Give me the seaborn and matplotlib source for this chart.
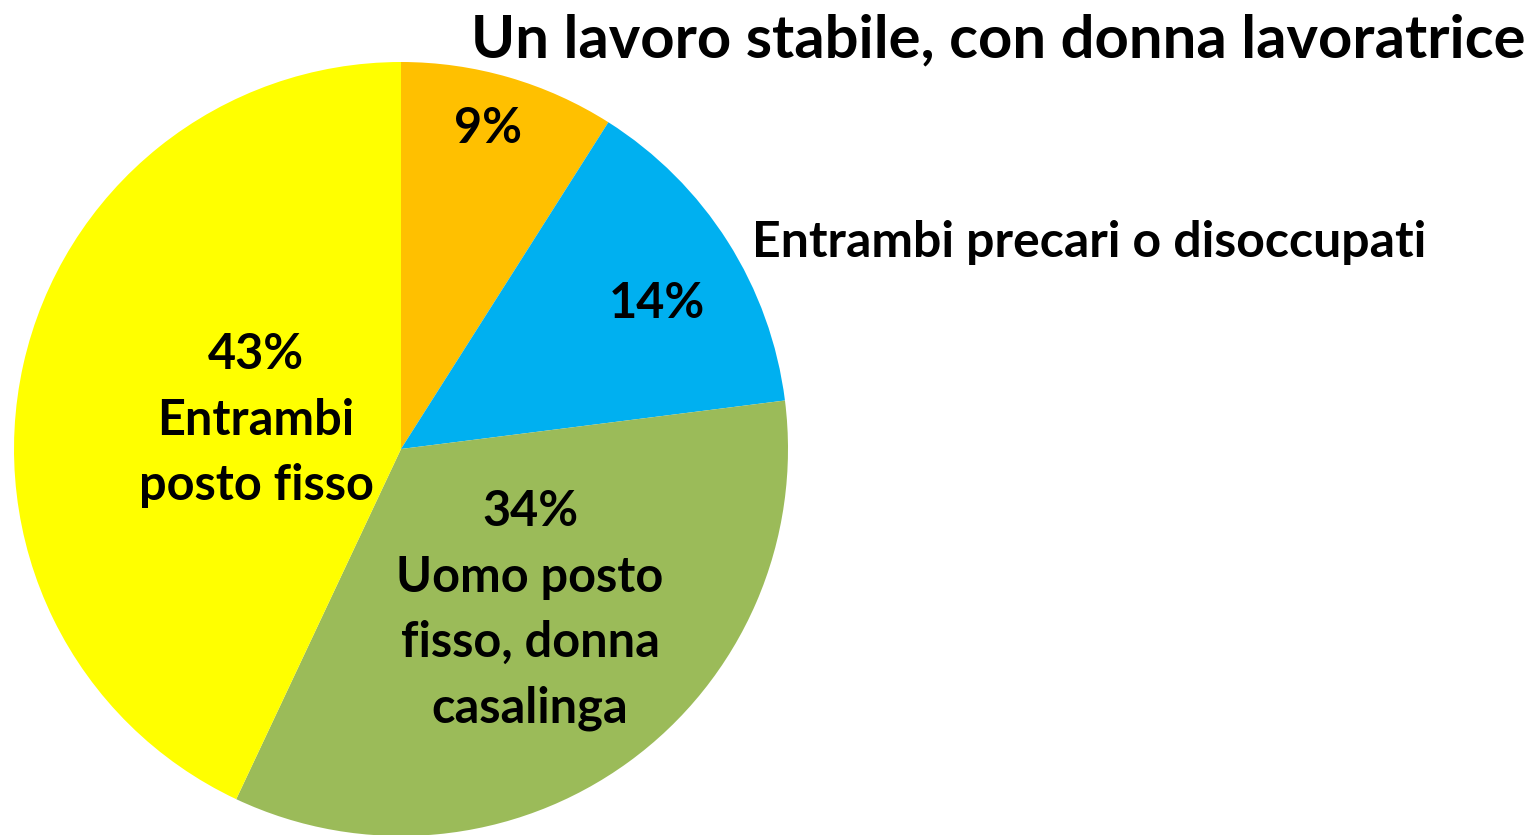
import matplotlib
matplotlib.use("Agg")
import matplotlib.pyplot as plt
import seaborn as sns

# slices, clockwise from the top
shares = [9, 14, 34, 43]
slice_colors = ["#FFC000", "#00B0F0", "#9BBB59", "#FFFF00"]
inner_labels = ["9%", "14%", "34%\nUomo posto\nfisso, donna\ncasalinga", "43%\nEntrambi\nposto fisso"]
title_text = "Un lavoro stabile, con donna lavoratrice"
side_label = "Entrambi precari o disoccupati"

sns.set_style("white")
plt.rcParams["font.family"] = ["Lato", "DejaVu Sans"]
plt.rcParams["text.color"] = "black"

W, H = 1533, 835
fig = plt.figure(figsize=(W / 100, H / 100), dpi=100)

# pie centre and radius in pixels
cx, cy, r = 401, 449, 387
ax = fig.add_axes([(cx - r) / W, (H - cy - r) / H, 2 * r / W, 2 * r / H])

ax.pie(shares, colors=slice_colors, startangle=90, counterclock=False,
       radius=1, wedgeprops={"linewidth": 0})
ax.set_xlim(-1, 1)
ax.set_ylim(-1, 1)
ax.set_aspect("equal")
ax.axis("off")

# label centres (pixels)
label_pos = [(488, 128), (657, 303), (530, 610), (256, 420)]
for txt, (px, py) in zip(inner_labels, label_pos):
    ax.text((px - cx) / r, (cy - py) / r, txt, ha="center", va="center",
            fontsize=35, fontweight="bold", linespacing=1.55, color="black")

fig.text(1089 / W, 1 - 243 / H, side_label, ha="center", va="center",
         fontsize=36, fontweight="bold", color="black")
fig.text(998 / W, 1 - 40 / H, title_text, ha="center", va="center",
         fontsize=43, fontweight="bold", color="black")

fig.savefig("out.png", dpi=100)
